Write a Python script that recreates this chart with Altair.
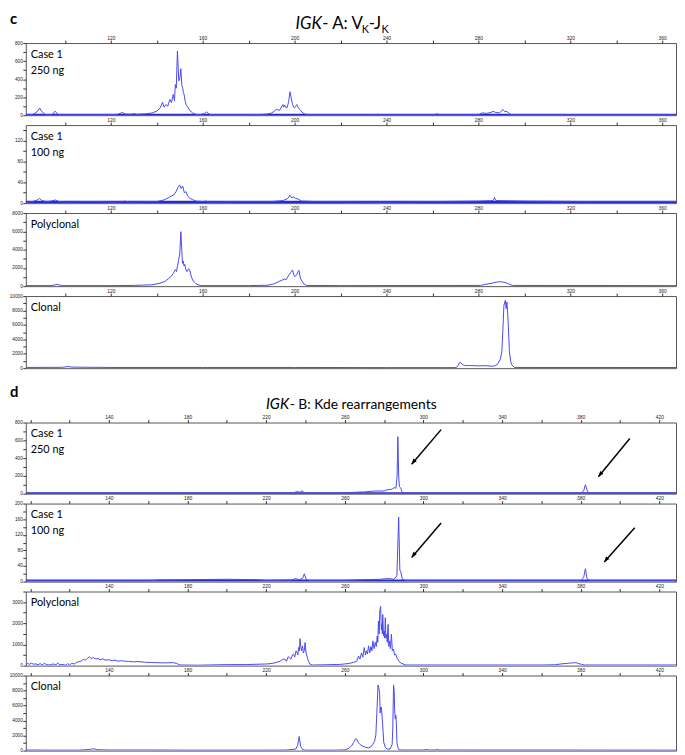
import altair as alt
import pandas as pd

# ---------------- data (bp, signal) ----------------
# Section c : IGK-A  Vk-Jk
c1_bp = [83, 86, 88, 89, 90, 91.5, 94.5, 95.7, 97, 99, 110, 120, 123, 125, 126.5, 129, 130, 131, 135, 138, 140, 141.5,
         142.5, 143.2, 144, 144.8, 145.7, 146.4, 147.2, 147.7, 148.1, 148.5, 149, 149.6, 150.1, 150.5, 150.9, 151.3,
         151.6, 151.9, 152.4, 152.8, 153.2, 153.7, 154.5, 155.6, 156.5, 157.4, 159, 160.8, 161.7, 162.8, 164, 175,
         185, 188, 190.1, 192, 193.5, 194.9, 195.3, 195.7, 196.2, 196.7, 197.4, 198, 198.6, 199.1, 199.5, 199.9,
         200.5, 201, 201.6, 202.3, 203.2, 204.2, 206, 230, 261.5, 262, 262.5, 280, 281.7, 283.5, 285.5, 286.4,
         287.5, 289.2, 290.7, 291.4, 292, 293, 293.9, 295, 366]
c1_val = [5, 6, 40, 80, 40, 6, 8, 45, 10, 4, 5, 6, 10, 30, 12, 10, 18, 10, 15, 25, 45, 80,
          144, 90, 118, 100, 174, 140, 230, 160, 340, 300, 711, 380, 420, 515, 330, 300,
          250, 230, 150, 118, 100, 81, 50, 26, 15, 7, 5, 20, 37, 12, 4, 5,
          8, 12, 25, 63, 55, 118, 90, 111, 85, 81, 150, 260, 180, 118, 90, 81,
          100, 118, 80, 63, 35, 15, 5, 4, 5, 20, 5, 5, 26, 20, 30, 44,
          30, 26, 63, 40, 44, 30, 10, 5, 5]

c2_bp = [83, 86, 88, 89, 90, 92, 94, 96, 97.5, 100, 110, 125, 126, 128, 140, 143, 145, 146.5, 147.5, 148.5, 149.2,
         150, 150.6, 151.3, 152, 152.7, 153.5, 154.5, 155.5, 157, 160, 161.5, 163, 180, 190, 195, 197, 198, 198.8,
         199.5, 200.5, 201.5, 203, 210, 240, 260, 280, 286.5, 287, 287.5, 300, 330, 366]
c2_val = [2, 3, 6, 9, 5, 3, 4, 6, 3, 2, 3, 2, 4, 2, 3, 6, 10, 14, 16, 23, 30,
          35, 28, 33, 20, 22, 13, 9, 7, 4, 3, 4, 2, 3, 3, 5, 9, 15, 10,
          12, 9, 8, 4, 3, 2, 3, 4, 5, 11, 5, 4, 3, 3]

c3_bp = [83, 94, 96.7, 98.5, 120, 130, 137.9, 141, 143.4, 145, 146.2, 147.2, 148.1, 148.6, 149, 149.5, 150, 150.5,
         150.9, 151.2, 151.5, 151.9, 152.2, 152.7, 153.2, 153.8, 154.3, 155, 155.6, 156.3, 156.9, 158, 159.3, 180,
         188.3, 191, 193, 194.5, 195.7, 196.3, 197.6, 198.3, 199.1, 199.6, 200, 200.5, 201, 201.5, 201.9, 202.4,
         202.9, 204, 205.1, 220, 280.9, 283, 285.5, 287.3, 289.2, 290.5, 292, 293.5, 294.8, 366]
c3_val = [60, 60, 190, 60, 60, 80, 150, 300, 490, 800, 1060, 1400, 1800, 1600, 2190, 2800, 3500, 5960,
          3900, 2500, 2750, 2200, 2380, 1800, 1600, 1900, 1800, 1100, 680, 450, 300, 150, 60, 60,
          100, 250, 490, 650, 790, 700, 1250, 1500, 1770, 1300, 1060, 1150, 1250, 1600, 1740, 1000,
          680, 250, 80, 60, 80, 200, 300, 420, 490, 450, 380, 200, 80, 60]

c4_bp = [83, 99, 101.4, 103, 108, 120, 160, 200, 240, 265, 270.5, 272, 273.3, 274.5, 276.1, 279.9, 283, 285.5,
         287, 288.3, 289.5, 290.2, 290.6, 291.1, 291.7, 292.1, 292.4, 292.7, 293, 293.5, 294, 294.5, 295.7, 366]
c4_val = [100, 120, 230, 150, 130, 100, 100, 100, 80, 80, 80, 830, 460, 350, 370, 320, 350, 275,
          300, 550, 1200, 2290, 5000, 8700, 9400, 8250, 9170, 7800, 5960, 2290, 1000, 460, 100, 90]

# Section d : IGK-B  Kde rearrangements
d1_bp = [97.7, 200, 234, 235, 236.1, 237, 238.3, 239.5, 241, 255, 264.5, 270, 275.4, 280, 282, 284, 285.2, 286,
         286.6, 287, 287.4, 287.8, 288.5, 289.2, 290.5, 380, 381.5, 382.4, 383.2, 384, 428.5]
d1_val = [6, 6, 8, 20, 23, 15, 32, 10, 6, 6, 15, 20, 30, 30, 46, 50, 69, 60,
          200, 640, 200, 80, 60, 15, 6, 6, 30, 100, 40, 8, 6]

d2_bp = [97.7, 160, 165, 180, 200, 215, 220, 233, 235, 236.5, 238.5, 239.4, 240.3, 242, 260, 270, 278, 282, 285,
         286.5, 287.4, 288, 288.5, 289.3, 291, 380, 381.5, 382.4, 383.2, 384.5, 428.5]
d2_val = [2, 2, 4, 5, 6, 5, 3, 4, 8, 5, 8, 20, 6, 3, 3, 5, 6, 8, 6,
          15, 165, 30, 25, 6, 3, 3, 10, 33, 8, 3, 3]

d3_bp = [97.7, 98.5, 99.5, 100.5, 101.5, 102.9, 104, 105, 106, 107.2, 108.5, 110, 111.6, 113, 114, 115, 116, 118,
         119, 120, 121, 122.5, 123.5, 124.7, 126, 127, 128, 129, 130.1, 131, 132, 133.4, 134.5, 135.5, 137, 138,
         140, 141.5, 143, 144.5, 146.6, 148.5, 150, 152, 155.3, 158, 161, 164, 168, 172.8, 174.5, 176.1, 185, 199,
         210, 220.8, 224, 227, 228.5, 229.5, 230.3, 231.2, 231.7, 232.5, 233.3, 233.9, 234.5, 235.2, 235.7, 236.1,
         236.5, 236.9, 237.2, 237.6, 238, 238.5, 238.9, 239.4, 239.8, 240.3, 240.9, 241.5, 242.2, 243.5, 250, 258,
         262, 264.5, 266, 267, 267.7, 268.5, 269.2, 269.9, 270.5, 271, 271.5, 272.1, 272.7, 273.3, 273.8, 274.3,
         274.9, 275.5, 276, 276.5, 276.8, 277.1, 277.5, 277.8, 278.2, 278.6, 278.9, 279.1, 279.3, 279.7, 280,
         280.3, 280.6, 280.9, 281.3, 281.6, 282, 282.4, 282.8, 283.2, 283.7, 284.2, 284.8, 285.3, 285.9, 286.6,
         287.4, 288.5, 289.6, 291, 330, 360, 367, 370, 373.7, 377, 378.5, 380.3, 382, 386, 428.5]
d3_val = [30, 110, 60, 120, 70, 80, 40, 100, 30, 110, 40, 30, 80, 40, 120, 40, 60, 20,
          90, 40, 100, 80, 150, 190, 220, 300, 260, 330, 420, 330, 380, 310, 340, 270, 320, 260,
          280, 230, 260, 210, 230, 200, 200, 180, 190, 160, 150, 140, 130, 140, 100, 30, 20, 45,
          50, 80, 120, 200, 300, 310, 200, 420, 390, 300, 500, 545, 400, 700, 620, 500,
          860, 700, 1275, 900, 700, 930, 600, 700, 1090, 600, 390, 200, 80, 30, 40, 60,
          100, 155, 200, 450, 310, 600, 400, 855, 500, 700, 550, 935, 600, 900, 700, 1165,
          800, 1100, 900, 1400, 1100, 2100, 1500, 2570, 2800, 1700, 1950, 1500, 2410, 1400, 1630,
          1300, 2260, 1300, 1480, 1100, 1950, 900, 1165, 800, 1480, 700, 780, 500, 545, 350,
          230, 120, 80, 30, 30, 30, 40, 80, 110, 140, 120, 60, 30, 30, 30]

d4_bp = [97.7, 110, 125, 130, 132.3, 134, 140, 160, 180, 215, 230, 235, 236, 236.8, 237.5, 238.5, 240, 255, 260.1,
         262, 263.4, 264.5, 265.6, 266.1, 266.7, 267.8, 268.9, 270.5, 272.1, 273.3, 274.3, 275.2, 275.8, 276.3,
         276.9, 277.3, 277.7, 278, 278.2, 278.6, 279.1, 279.5, 279.8, 280.5, 281.5, 283, 283.6, 284.1, 284.4,
         284.8, 285.1, 285.4, 285.7, 286, 286.3, 286.5, 287, 287.6, 290, 300, 302, 303, 306, 307, 308, 428.5]
d4_val = [80, 60, 60, 150, 250, 120, 80, 80, 60, 60, 70, 200, 700, 1880, 600, 150, 60, 60, 100,
          300, 610, 1100, 1620, 1500, 1120, 800, 610, 450, 355, 500, 860, 1300, 2130, 5000,
          8730, 8400, 7700, 5000, 5690, 5800, 4160, 2500, 1120, 500, 200, 200, 500, 860, 3000,
          8730, 8000, 5180, 4200, 4670, 3000, 1120, 400, 100, 80, 80, 150, 80, 80, 150, 80, 60]

# thick noisy baselines of the low-signal runs
c1_base = [4, 4]
c2_base = [2.5, 2.5]
d1_base = [5, 5]
d2_base = [2.5, 2.5]

# arrows (tail bp, tail signal, head bp, head signal)
d1_arrows = [(309, 720, 294, 330), (405, 620, 389, 190)]
d2_arrows = [(309, 150, 294, 62), (407.5, 138, 392, 50)]

c_ticks = list(range(100, 361, 20))
d_ticks = list(range(100, 421, 20))
c_dom = [83, 366]
d_dom = [97.7, 428.5]

# ---------------- styling ----------------
W = 658
LINE = "#4848f0"
BASE = "#2a2ac4"
FONT = "Lato"
AXFONT = "Liberation Sans Narrow, Liberation Sans, DejaVu Sans"
HEAD = "M0,0 L-0.45,1.2 L0.45,1.2 Z"


def panel(bp, val, xdom, xticks, xexpr, ymax, ystep, ylab, height, labels,
          base=None, arrows=None):
    xenc = alt.X("bp:Q",
                 scale=alt.Scale(domain=xdom, nice=False, zero=False),
                 axis=alt.Axis(orient="top", values=xticks, labelExpr=xexpr, title=None, grid=False,
                               domain=False, tickSize=3, tickColor="#333", labelFontSize=5,
                               labelFont=AXFONT, labelColor="#222", labelPadding=0,
                               labelOverlap=False, labelFlush=False))
    yvals = list(range(0, ymax + 1, ystep))
    yenc = alt.Y("val:Q",
                 scale=alt.Scale(domain=[0, ymax], nice=False),
                 axis=alt.Axis(values=yvals,
                               labelExpr=f"datum.value % {ylab} == 0 ? format(datum.value, 'd') : ''",
                               title=None, grid=False, domain=False, tickSize=3, tickColor="#333",
                               labelFontSize=4.8, labelFont=AXFONT, labelColor="#222", labelPadding=0.5,
                               labelOverlap=False, labelFlush=False))
    layers = []
    if base is not None:
        bdf = pd.DataFrame({"bp": xdom, "val": base})
        layers.append(alt.Chart(bdf).mark_line(color=BASE, strokeWidth=2.2, clip=True)
                      .encode(x=xenc, y=yenc))
    df = pd.DataFrame({"bp": bp, "val": val})
    layers.append(alt.Chart(df).mark_line(color=LINE, strokeWidth=1, clip=True)
                  .encode(x=xenc, y=yenc))
    for i, t in enumerate(labels):
        tdf = pd.DataFrame({"t": [t]})
        layers.append(alt.Chart(tdf).mark_text(align="left", baseline="middle", font=FONT,
                                               fontSize=11, color="black")
                      .encode(text="t:N", x=alt.value(5), y=alt.value(12 + 16 * i)))
    if arrows is not None:
        adf = pd.DataFrame({"bp": [a[0] for a in arrows], "val": [a[1] for a in arrows],
                            "bp2": [a[2] for a in arrows], "val2": [a[3] for a in arrows]})
        layers.append(alt.Chart(adf).mark_rule(color="black", strokeWidth=1.5)
                      .encode(x=xenc, y=yenc, x2="bp2:Q", y2="val2:Q"))
        hdf = pd.DataFrame({"bp": [a[2] for a in arrows], "val": [a[3] for a in arrows]})
        layers.append(alt.Chart(hdf).mark_point(shape=HEAD, filled=True, size=90, angle=218,
                                                color="black", opacity=1, strokeWidth=0)
                      .encode(x=xenc, y=yenc))
    return alt.layer(*layers).properties(width=W, height=height)


def header(pieces, height):
    layers = []
    for text, x, y, size, weight, style in pieces:
        tdf = pd.DataFrame({"t": [text]})
        layers.append(alt.Chart(tdf).mark_text(align="left", baseline="alphabetic", font=FONT,
                                               fontSize=size, fontWeight=weight, fontStyle=style,
                                               color="black")
                      .encode(text="t:N", x=alt.value(x), y=alt.value(y)))
    return alt.layer(*layers).properties(width=W, height=height,
                                         view=alt.ViewBackground(strokeOpacity=0))


cx = "datum.value % 40 == 0 ? datum.label : ''"
dx = "(datum.value >= 140 && (datum.value - 140) % 40 == 0) ? datum.label : ''"

head_c = header([
    ("c", -16, 8, 15, "bold", "normal"),
    ("IGK", 273, 13, 17, "normal", "italic"),
    ("- A: V", 300, 13, 17, "normal", "normal"),
    ("K", 340, 16.5, 11, "normal", "normal"),
    ("-J", 347, 13, 17, "normal", "normal"),
    ("K", 360, 16.5, 11, "normal", "normal"),
], 17)

head_d = header([
    ("d", -16, 19, 15, "bold", "normal"),
    ("IGK", 243, 31, 15, "normal", "italic"),
    ("- B: Kde rearrangements", 267, 31, 14, "normal", "normal"),
], 35)

p_c1 = panel(c1_bp, c1_val, c_dom, c_ticks, cx, 800, 100, 200, 73, ["Case 1", "250 ng"], base=c1_base)
p_c2 = panel(c2_bp, c2_val, c_dom, c_ticks, cx, 150, 20, 40, 79, ["Case 1", "100 ng"], base=c2_base)
p_c3 = panel(c3_bp, c3_val, c_dom, c_ticks, cx, 8000, 1000, 2000, 74, ["Polyclonal"])
p_c4 = panel(c4_bp, c4_val, c_dom, c_ticks, cx, 10000, 1000, 2000, 73, ["Clonal"])
p_d1 = panel(d1_bp, d1_val, d_dom, d_ticks, dx, 800, 100, 200, 72, ["Case 1", "250 ng"],
             base=d1_base, arrows=d1_arrows)
p_d2 = panel(d2_bp, d2_val, d_dom, d_ticks, dx, 200, 20, 40, 79, ["Case 1", "100 ng"],
             base=d2_base, arrows=d2_arrows)
p_d3 = panel(d3_bp, d3_val, d_dom, d_ticks, dx, 3500, 500, 1000, 75, ["Polyclonal"])
p_d4 = panel(d4_bp, d4_val, d_dom, d_ticks, dx, 10000, 1000, 2000, 76, ["Clonal"])

chart = alt.vconcat(head_c, p_c1, p_c2, p_c3, p_c4, head_d, p_d1, p_d2, p_d3, p_d4,
                    spacing=10, bounds="flush").configure_view(stroke="#555", strokeWidth=1) \
    .properties(background="white", padding=0)

chart.save("out.html", embed_options={"renderer": "svg", "actions": False})
